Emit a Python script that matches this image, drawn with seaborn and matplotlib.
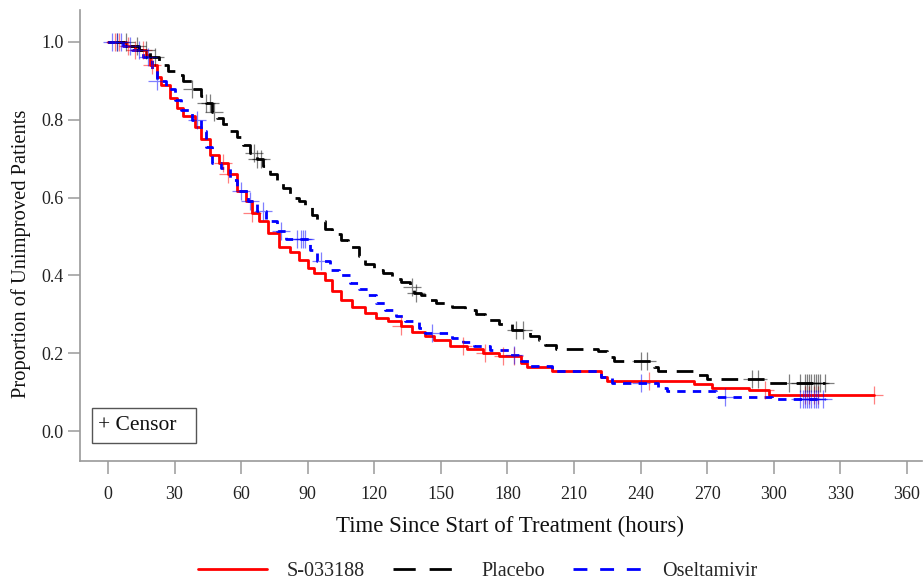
import matplotlib
matplotlib.use("Agg")
import matplotlib.pyplot as plt
from matplotlib.patches import Rectangle
from matplotlib.lines import Line2D
import seaborn as sns
import numpy as np
import pandas as pd

# ---- data ----
groups = ["S-033188", "Placebo", "Oseltamivir"]

s_time = [0, 8, 12, 17, 19, 22, 24, 28, 31, 34, 39, 42, 46, 50, 54, 58, 62, 65, 68, 72, 77, 82, 86, 90, 93,
          98, 101, 105, 110, 116, 121, 126, 132, 137, 143, 147, 154, 162, 169, 176, 186, 189, 200, 222, 225,
          264, 272, 289, 298, 345]
s_surv = [1.0, 0.99, 0.98, 0.966, 0.94, 0.91, 0.89, 0.855, 0.83, 0.81, 0.78, 0.75, 0.71, 0.69, 0.66, 0.617,
          0.59, 0.56, 0.54, 0.51, 0.473, 0.46, 0.44, 0.42, 0.405, 0.388, 0.36, 0.337, 0.32, 0.303, 0.29, 0.284,
          0.27, 0.256, 0.245, 0.235, 0.218, 0.21, 0.20, 0.192, 0.175, 0.165, 0.154, 0.138, 0.128, 0.12, 0.11,
          0.105, 0.092, 0.092]

p_time = [0, 10, 14, 19, 23, 27, 30, 34, 38, 42, 44, 47, 49, 52, 55, 58, 61, 64, 67, 70, 73, 76, 79, 82, 86,
          89, 92, 94, 98, 101, 105, 108, 113, 116, 120, 124, 128, 132, 136, 138, 141, 145, 148, 155, 161, 166,
          170, 176, 182, 190, 194, 197, 202, 221, 225, 228, 246, 248, 265, 270, 297, 323]
p_surv = [1.0, 0.99, 0.979, 0.962, 0.94, 0.925, 0.915, 0.90, 0.88, 0.86, 0.843, 0.82, 0.804, 0.79, 0.77,
          0.755, 0.736, 0.715, 0.70, 0.68, 0.66, 0.645, 0.625, 0.60, 0.59, 0.575, 0.555, 0.54, 0.52, 0.507,
          0.49, 0.473, 0.45, 0.43, 0.415, 0.405, 0.39, 0.383, 0.37, 0.355, 0.349, 0.338, 0.328, 0.32, 0.311,
          0.30, 0.286, 0.275, 0.26, 0.245, 0.235, 0.222, 0.212, 0.205, 0.19, 0.18, 0.165, 0.154, 0.145, 0.133,
          0.124, 0.124]

o_time = [0, 7, 11, 16, 20, 22, 26, 30, 33, 38, 42, 44, 47, 51, 55, 58, 63, 67, 71, 76, 80, 91, 94, 100, 104,
          109, 113, 117, 121, 125, 130, 134, 140, 143, 155, 160, 165, 172, 181, 186, 190, 200, 222, 227, 248,
          252, 274, 299, 323]
o_surv = [1.0, 0.99, 0.98, 0.96, 0.93, 0.90, 0.88, 0.85, 0.826, 0.80, 0.77, 0.73, 0.69, 0.675, 0.645, 0.617,
          0.592, 0.565, 0.54, 0.515, 0.494, 0.465, 0.437, 0.415, 0.40, 0.38, 0.365, 0.35, 0.33, 0.311, 0.295,
          0.283, 0.265, 0.252, 0.24, 0.23, 0.22, 0.209, 0.196, 0.18, 0.167, 0.154, 0.138, 0.125, 0.11, 0.103,
          0.089, 0.082, 0.082]

s_censor = [3, 5, 9, 12, 16, 20, 52, 54, 65, 132, 160, 170, 178, 183, 244, 296, 314, 316, 318, 320, 345]
p_censor = [4, 8, 13, 17, 21, 38, 44, 46, 48, 66, 67, 69, 137, 139, 184, 187, 240, 243, 290, 293, 307, 312,
            314, 315, 316, 317, 318, 319, 320, 321, 323]
o_censor = [2, 4, 6, 10, 14, 18, 22, 40, 60, 64, 70, 78, 85, 87, 88, 89, 96, 146, 183, 240, 278, 312, 313,
            314, 315, 316, 317, 318, 319, 320, 322]

x_ticks = [0, 30, 60, 90, 120, 150, 180, 210, 240, 270, 300, 330, 360]
y_ticks = [0.0, 0.2, 0.4, 0.6, 0.8, 1.0]

# ---- build frames ----
curves = {"S-033188": (s_time, s_surv, s_censor),
          "Placebo": (p_time, p_surv, p_censor),
          "Oseltamivir": (o_time, o_surv, o_censor)}
colors = {"S-033188": "#FF0000", "Placebo": "#000000", "Oseltamivir": "#0000FF"}
dashes = {"S-033188": None, "Placebo": (6, 3.5), "Oseltamivir": (3, 2.6)}
leg_dashes = {"S-033188": None, "Placebo": (8, 5), "Oseltamivir": (5, 4.6)}

rows, crows = [], []
for g, (t, s, c) in curves.items():
    for ti, si in zip(t, s):
        rows.append({"group": g, "time": ti, "surv": si})
    tt = np.array(t); ss = np.array(s)
    for ci in c:
        idx = np.searchsorted(tt, ci, side="right") - 1
        crows.append({"group": g, "time": ci, "surv": ss[idx]})
df = pd.DataFrame(rows)
cdf = pd.DataFrame(crows)

sns.set_theme(style="white")
plt.rcParams["font.family"] = ["Liberation Serif", "DejaVu Serif"]

fig = plt.figure(figsize=(9.24, 5.86), dpi=100)
ax = fig.add_axes([80 / 924, (586 - 461) / 586, 842 / 924, (461 - 10) / 586])

for g in groups:
    sub = df[df.group == g]
    sns.lineplot(data=sub, x="time", y="surv", ax=ax, color=colors[g], estimator=None,
                 drawstyle="steps-post", linewidth=2.0, legend=False, dashes=False)
    line = ax.lines[-1]
    if dashes[g]:
        line.set_dashes(dashes[g])
    csub = cdf[cdf.group == g]
    sns.scatterplot(data=csub, x="time", y="surv", ax=ax, marker="+", color=colors[g],
                    s=150, linewidth=0.9, alpha=0.5, legend=False, zorder=3)

ax.set_xlim(-12.6, 366.8)
ax.set_ylim(-0.0765, 1.0816)
ax.set_xticks(x_ticks)
ax.set_xticklabels([str(v) for v in x_ticks])
ax.set_yticks(y_ticks)
ax.set_yticklabels([f"{v:.1f}" for v in y_ticks])
ax.tick_params(axis="both", which="major", direction="out", length=9, width=1.1, color="#9a9a9a",
               labelsize=13, labelcolor="#222222", bottom=True, left=True)
ax.tick_params(axis="x", pad=9)
ax.tick_params(axis="y", pad=3)
for side in ["top", "right"]:
    ax.spines[side].set_visible(False)
for side in ["left", "bottom"]:
    ax.spines[side].set_color("#9a9a9a")
    ax.spines[side].set_linewidth(1.2)

ax.set_xlabel("Time Since Start of Treatment (hours)", fontsize=16.5, color="#111111")
ax.xaxis.set_label_coords(0.511, -0.122)
ax.set_ylabel("Proportion of Unimproved Patients", fontsize=14.8, color="#111111")
ax.yaxis.set_label_coords(-0.058, 0.459)

# censor box
ax.add_patch(Rectangle((12 / 842, 18 / 451), 104 / 842, 35 / 451, transform=ax.transAxes,
                       fill=False, edgecolor="#555555", linewidth=1))
ax.text(18 / 842, 35.5 / 451, "+ Censor", transform=ax.transAxes, fontsize=15.5,
        va="center", ha="left", color="#111111")

handles = []
for g in groups:
    h = Line2D([0], [0], color=colors[g], linewidth=2.0)
    if leg_dashes[g]:
        h.set_dashes(leg_dashes[g])
    handles.append(h)
leg = fig.legend(handles, groups, loc="center", bbox_to_anchor=(0.517, 0.024), ncol=3,
                 frameon=False, fontsize=14.5, handlelength=3.4, columnspacing=1.4, handletextpad=1.0)

fig.savefig("out.png", dpi=100)
